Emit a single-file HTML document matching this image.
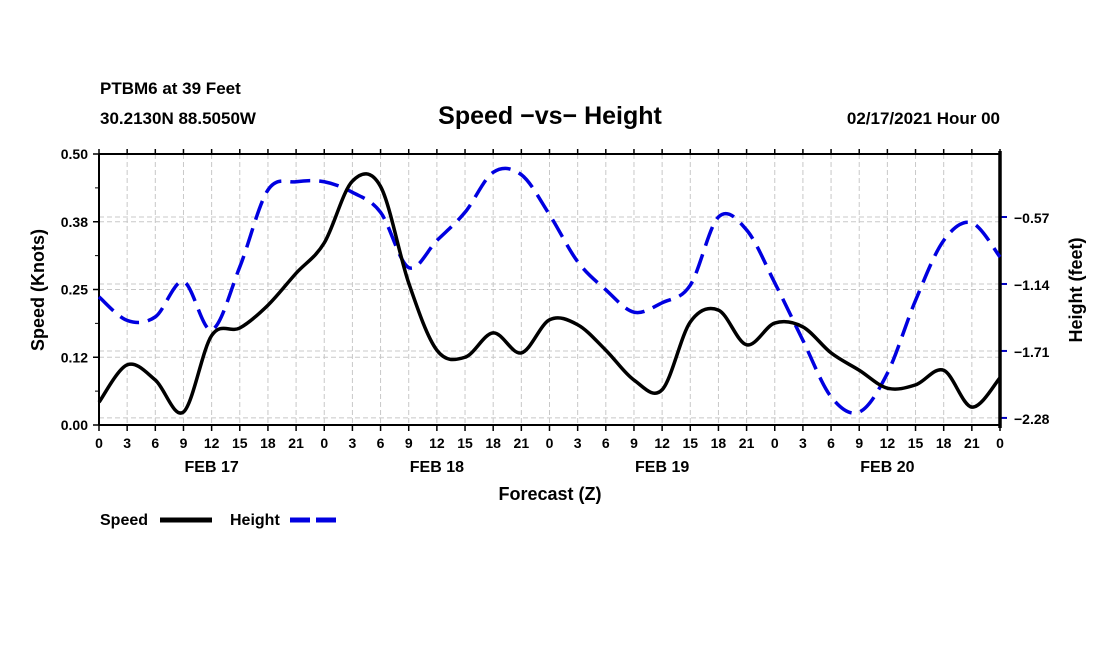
<!DOCTYPE html>
<html><head><meta charset="utf-8"><style>
html,body{margin:0;padding:0;background:#fff;}
svg{display:block;font-family:"Liberation Sans",sans-serif;font-weight:bold;}
</style></head><body>
<svg id="c" width="1100" height="650">
<text x="100" y="94" font-size="17">PTBM6 at 39 Feet</text>
<text x="100" y="124" font-size="17">30.2130N 88.5050W</text>
<text x="550" y="124" font-size="25" text-anchor="middle">Speed −vs− Height</text>
<text x="1000" y="124" font-size="17" text-anchor="end">02/17/2021 Hour 00</text>
<text x="550" y="500" font-size="18" text-anchor="middle">Forecast (Z)</text>
<text transform="translate(44,290) rotate(-90)" font-size="18" text-anchor="middle">Speed (Knots)</text>
<text transform="translate(1082,290) rotate(-90)" font-size="18" text-anchor="middle">Height (feet)</text>
<g>
<text x="100" y="525" font-size="16">Speed</text>
<line x1="160" y1="520" x2="212" y2="520" stroke="#000" stroke-width="5"/>
<text x="230" y="525" font-size="16">Height</text>
<line x1="290" y1="520" x2="342" y2="520" stroke="#0000e0" stroke-width="5" stroke-dasharray="20,6"/>
</g>
</svg>
<script>
const hourLabels = ["0","3","6","9","12","15","18","21","0","3","6","9","12","15","18","21","0","3","6","9","12","15","18","21","0","3","6","9","12","15","18","21","0"];
const dayLabels = ["FEB 17","FEB 18","FEB 19","FEB 20"];
const speedTicks = [0,0.125,0.25,0.375,0.5];
const speedTickLabels = ["0.00","0.12","0.25","0.38","0.50"];
const heightTicks = [-0.57,-1.14,-1.71,-2.28];
const heightTickLabels = ["−0.57","−1.14","−1.71","−2.28"];
const speed = [0.042,0.111,0.083,0.024,0.165,0.179,0.221,0.28,0.336,0.45,0.44,0.262,0.138,0.125,0.17,0.133,0.194,0.185,0.138,0.083,0.065,0.19,0.212,0.148,0.188,0.181,0.133,0.101,0.068,0.074,0.101,0.033,0.087];
const height = [-1.25,-1.45,-1.42,-1.12,-1.53,-0.995,-0.34,-0.27,-0.27,-0.36,-0.53,-1.0,-0.77,-0.53,-0.19,-0.21,-0.55,-0.95,-1.19,-1.38,-1.30,-1.15,-0.57,-0.68,-1.13,-1.62,-2.10,-2.23,-1.90,-1.28,-0.77,-0.62,-0.91];

const L=99,R=1000,T=154,B=425;
const NS='http://www.w3.org/2000/svg';
const svg=document.getElementById('c');
const xs=i=>L+(R-L)*i/(hourLabels.length-1);
const ySpeed=v=>B-(B-T)*v/0.5;
const yHeight=v=>217-(v+0.57)*117.5;
function mk(tag,attrs,parent){const e=document.createElementNS(NS,tag);for(const k in attrs)e.setAttribute(k,attrs[k]);(parent||svg).appendChild(e);return e;}

const grid=mk('g',{});


hourLabels.forEach((h,i)=>{const x=xs(i);
 mk('line',{x1:x,x2:x,y1:T,y2:B,stroke:'#c8c8c8','stroke-width':1,'stroke-dasharray':'5,3'},grid);
 mk('line',{x1:x,x2:x,y1:B,y2:B+6,stroke:'#000','stroke-width':1.5},grid);
 mk('line',{x1:x,x2:x,y1:T,y2:T-5,stroke:'#000','stroke-width':1.5},grid);
 const t=mk('text',{x:x,y:B+23,'font-size':14,'text-anchor':'middle'});t.textContent=h;
 
 
});
dayLabels.forEach((d,k)=>{const t=mk('text',{x:xs(4+8*k),y:472,'font-size':16,'text-anchor':'middle'});t.textContent=d;
 
 
});
speedTicks.forEach((v,k)=>{const y=ySpeed(v);
 mk('line',{x1:L,x2:R,y1:y,y2:y,stroke:'#c8c8c8','stroke-width':1,'stroke-dasharray':'5,3'},grid);
 mk('line',{x1:L-6,x2:L,y1:y,y2:y,stroke:'#000','stroke-width':1.5},grid);
 if(k<speedTicks.length-1){const ym=ySpeed(v+0.0625);mk('line',{x1:L-4,x2:L,y1:ym,y2:ym,stroke:'#000','stroke-width':1},grid);}
 const t=mk('text',{x:L-11,y:y+5,'font-size':14,'text-anchor':'end'});t.textContent=speedTickLabels[k];
 
 
});
heightTicks.forEach((v,k)=>{const y=yHeight(v);
 mk('line',{x1:L,x2:R,y1:y,y2:y,stroke:'#c8c8c8','stroke-width':1,'stroke-dasharray':'5,3'},grid);
 mk('line',{x1:R,x2:R+7,y1:y,y2:y,stroke:'#0000c0','stroke-width':2},grid);
 const t=mk('text',{x:R+14,y:y+6,'font-size':14});t.textContent=heightTickLabels[k];
 
 
});
const frame=mk('g',{});


mk('line',{x1:L,x2:R,y1:T,y2:T,stroke:'#000','stroke-width':2},frame);
mk('line',{x1:L,x2:R,y1:B,y2:B,stroke:'#000','stroke-width':2},frame);
mk('line',{x1:L,x2:L,y1:T,y2:B,stroke:'#000','stroke-width':2},frame);
mk('line',{x1:R,x2:R,y1:T-3,y2:B+3,stroke:'#000','stroke-width':3.5},frame);

function smooth(pts){let d='M'+pts[0][0]+','+pts[0][1];
 for(let i=0;i<pts.length-1;i++){const p0=pts[Math.max(0,i-1)],p1=pts[i],p2=pts[i+1],p3=pts[Math.min(pts.length-1,i+2)];
  const c1=[p1[0]+(p2[0]-p0[0])/6,p1[1]+(p2[1]-p0[1])/6],c2=[p2[0]-(p3[0]-p1[0])/6,p2[1]-(p3[1]-p1[1])/6];
  d+=' C'+c1.join(',')+' '+c2.join(',')+' '+p2.join(',');}
 return d;}
const hp=mk('path',{d:smooth(height.map((v,i)=>[xs(i),yHeight(v)])),fill:'none',stroke:'#0000e0','stroke-width':3.5,'stroke-dasharray':'20,9'});


const sp=mk('path',{d:smooth(speed.map((v,i)=>[xs(i),ySpeed(v)])),fill:'none',stroke:'#000','stroke-width':3.5});


</script>
</body></html>
